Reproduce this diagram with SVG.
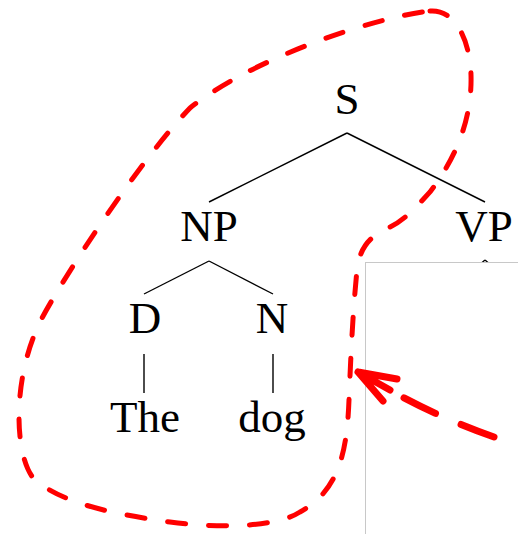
<svg xmlns="http://www.w3.org/2000/svg" width="518" height="534" viewBox="0 0 518 534">
  <style>
    .lbl { font-family: "Liberation Serif", "DejaVu Serif", serif; font-size: 45px; fill: #000; text-anchor: middle; }
    .edge { stroke: #000; stroke-width: 1.4; fill: none; }
    .blob { stroke: #f00; stroke-width: 5; fill: none; stroke-linecap: round; stroke-dasharray: 18 23; }
    .arrow { stroke: #f00; stroke-width: 7; fill: none; stroke-linecap: round; stroke-linejoin: round; }
  </style>
  <rect width="518" height="534" fill="#fff"/>
  <g id="connectors">
    <line class="edge" x1="347" y1="133" x2="209" y2="202"/>
    <line class="edge" x1="347" y1="133" x2="485" y2="202"/>
    <line class="edge" x1="209" y1="261" x2="144" y2="294"/>
    <line class="edge" x1="209" y1="261" x2="273" y2="294"/>
    <line class="edge" x1="144" y1="354" x2="144" y2="393"/>
    <line class="edge" x1="273" y1="354" x2="273" y2="393"/>
    <line class="edge" x1="485" y1="260" x2="450" y2="290"/>
    <line class="edge" x1="485" y1="260" x2="520" y2="290"/>
  </g>
  <g id="node-S"><text class="lbl" x="347" y="114">S</text></g>
  <g id="node-NP"><text class="lbl" x="209" y="241">NP</text></g>
  <g id="node-VP"><text class="lbl" x="484" y="241">VP</text></g>
  <g id="node-D"><text class="lbl" x="145" y="333">D</text></g>
  <g id="node-N"><text class="lbl" x="272" y="333">N</text></g>
  <g id="node-The"><text class="lbl" x="145" y="432">The</text></g>
  <g id="node-dog"><text class="lbl" x="272" y="432">dog</text></g>
  <rect id="overlay-box" x="365.5" y="262.5" width="200" height="300" fill="#fff" stroke="#c8c8c8" stroke-width="1"/>
  <g id="highlight">
    <path class="blob" d="M430,11 C455,9 470,40 471,75 C472,110 462,150 430,192 C418,205 405,220 390,227 C372,235 360,245 357,270 C353,310 351,350 349,400 C347,450 340,490 300,512 C280,525 230,530 170,522 C120,515 65,505 35,480 C15,460 10,380 42,318 C65,275 140,160 190,108 C250,60 370,18 430,11 Z"/>
  </g>
  <g id="pointer">
    <path class="arrow" d="M494,437 Q440,418 393,392" stroke-dasharray="35 28"/>
    <path class="arrow" d="M397,379 L358,372 L383,401 M358,372 L390,390"/>
  </g>
</svg>
